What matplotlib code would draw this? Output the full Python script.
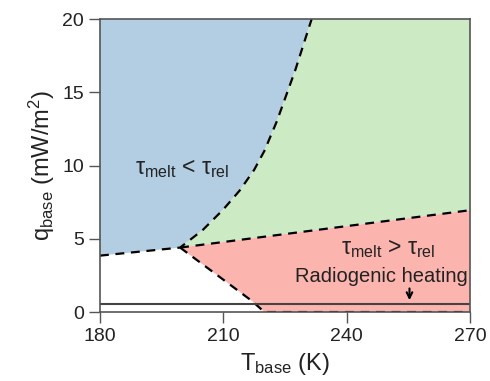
import matplotlib.pyplot as plt
import numpy as np

plt.rcParams['font.family'] = ['Liberation Sans', 'DejaVu Sans']
plt.rcParams['mathtext.fontset'] = 'custom'
plt.rcParams['mathtext.rm'] = 'Liberation Sans'
plt.rcParams['mathtext.it'] = 'Liberation Sans'
plt.rcParams['mathtext.default'] = 'regular'

# boundary between tau_melt < tau_rel (blue) and the green region
blue_T = [180, 199.5, 205, 210, 214, 217.5, 220, 223, 227.5, 231.5]
blue_q = [3.85, 4.4, 5.6, 7.0, 8.3, 9.7, 11.0, 13.0, 16.5, 20.0]
# upper edge of the red region
red_top_T = [199.5, 270]
red_top_q = [4.4, 6.95]
# lower-left edge of the red region
red_low_T = [199.5, 217, 220, 270]
red_low_q = [4.4, 0.75, 0.0, 0.0]
q_radio = 0.55

c_blue = '#b3cde3'
c_green = '#ccebc5'
c_red = '#fbb4ae'

fig = plt.figure(figsize=(4.9, 3.81), dpi=100)
ax = fig.add_axes([0.204, 0.181, 0.755, 0.769])

# blue region: left of curve, above the left dashed segment
bx = np.array(blue_T[1:])
bq = np.array(blue_q[1:])
poly_blue_x = [180, 199.5] + list(bx[1:]) + [180]
poly_blue_y = [3.85, 4.4] + list(bq[1:]) + [20]
ax.fill(poly_blue_x, poly_blue_y, color=c_blue, lw=0)

# green region
poly_green_x = list(bx) + [270, 270]
poly_green_y = list(bq) + [20, red_top_q[1]]
ax.fill(poly_green_x, poly_green_y, color=c_green, lw=0)

# red region
poly_red_x = red_low_T + [270]
poly_red_y = red_low_q + [red_top_q[1]]
ax.fill(poly_red_x, poly_red_y, color=c_red, lw=0)

dash = dict(color='black', lw=1.6, ls=(0, (4, 3)))
ax.plot(blue_T, blue_q, **dash)
ax.plot(red_top_T, red_top_q, **dash)
ax.plot(red_low_T, red_low_q, **dash)

ax.axhline(q_radio, color='#444444', lw=1.5)

ax.text(200, 9.8, r'τ$_{melt}$ < τ$_{rel}$', fontsize=16.5,
        ha='center', va='center', color='#222222')
ax.text(250, 4.35, r'τ$_{melt}$ > τ$_{rel}$', fontsize=16.5,
        ha='center', va='center', color='#222222')
ax.text(248.4, 2.4, 'Radiogenic heating', fontsize=14.5, ha='center', va='center',
        color='#222222')
ax.annotate('', xy=(255.3, 0.62), xytext=(255.3, 1.8),
            arrowprops=dict(arrowstyle='->', color='black', lw=1.5))

ax.set_xlim(180, 270)
ax.set_ylim(0, 20)
ax.set_xticks([180, 210, 240, 270])
ax.set_yticks([0, 5, 10, 15, 20])
ax.tick_params(direction='out', length=8, width=1, color='#555555',
               labelsize=14, labelcolor='#222222')
for s in ax.spines.values():
    s.set_color('#555555')
    s.set_linewidth(1.2)

ax.set_xlabel(r'T$_{base}$ (K)', fontsize=17, color='#222222')
ax.set_ylabel(r'q$_{base}$ (mW/m$^2$)', fontsize=17, color='#222222')

fig.savefig('out.png', dpi=100)
